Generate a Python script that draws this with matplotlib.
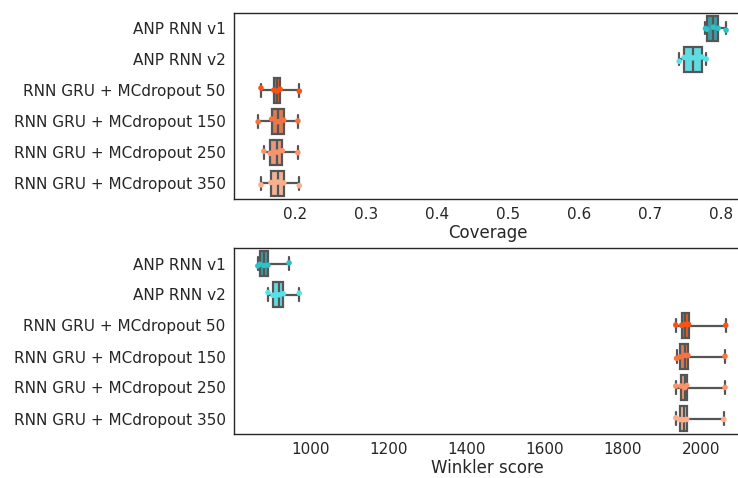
import numpy as np
import pandas as pd
import matplotlib
matplotlib.use("Agg")
import matplotlib.pyplot as plt
import seaborn as sns

models = ["ANP RNN v1", "ANP RNN v2", "RNN GRU + MCdropout 50",
          "RNN GRU + MCdropout 150", "RNN GRU + MCdropout 250",
          "RNN GRU + MCdropout 350"]

# coverage per run (5 runs per model)
cov_v1 = [0.778, 0.780, 0.789, 0.796, 0.807]
cov_v2 = [0.741, 0.748, 0.760, 0.773, 0.779]
cov_50 = [0.152, 0.170, 0.175, 0.179, 0.206]
cov_150 = [0.148, 0.167, 0.176, 0.184, 0.204]
cov_250 = [0.156, 0.165, 0.175, 0.182, 0.204]
cov_350 = [0.152, 0.166, 0.176, 0.184, 0.206]

# winkler score per run
wink_v1 = [866, 871, 882, 892, 946]
wink_v2 = [892, 905, 920, 931, 972]
wink_50 = [1936, 1951, 1959, 1969, 2064]
wink_150 = [1938, 1946, 1959, 1967, 2062]
wink_250 = [1936, 1949, 1959, 1964, 2062]
wink_350 = [1936, 1946, 1956, 1964, 2059]

box_colors = ["#3b9ca3", "#62dbe0", "#f0591c", "#e07a52", "#e8987b", "#efb496"]
pt_colors = ["#2fc0c9", "#55e3ea", "#ff5210", "#f8733d", "#ff9266", "#ffae88"]

cov = [cov_v1, cov_v2, cov_50, cov_150, cov_250, cov_350]
wink = [wink_v1, wink_v2, wink_50, wink_150, wink_250, wink_350]

rows = []
for m, c, w in zip(models, cov, wink):
    for a, b in zip(c, w):
        rows.append((m, a, b))
df = pd.DataFrame(rows, columns=["model", "Coverage", "Winkler score"])

sns.set_style("white")
plt.rcParams['font.family'] = ['DejaVu Sans']

fig = plt.figure(figsize=(7.38, 4.78), dpi=100)
ax1 = fig.add_axes([234/738, 1-199/478, (741-234)/738, (199-12.7)/478])
ax2 = fig.add_axes([234/738, 1-434/478, (741-234)/738, (434-248)/478])

np.random.seed(3)
for ax, col, lim in [(ax1, "Coverage", (0.114, 0.828)),
                     (ax2, "Winkler score", (805, 2103))]:
    sns.boxplot(data=df, x=col, y="model", hue="model", order=models,
                palette=box_colors, saturation=1, width=0.8, whis=(0, 100),
                linewidth=1.6, linecolor="#555555", fliersize=0,
                legend=False, ax=ax)
    sns.stripplot(data=df, x=col, y="model", hue="model", order=models,
                  palette=pt_colors, size=4, jitter=0.08,
                  legend=False, ax=ax)
    ax.set_xlim(lim)
    ax.set_ylabel("")
    ax.set_xlabel(col, fontsize=12, color="#262626", labelpad=1)
    ax.tick_params(length=0, pad=6, labelsize=11, labelcolor="#262626")
    for s in ax.spines.values():
        s.set_color("#262626")
        s.set_linewidth(1.0)

ax2.set_xticks([1000, 1200, 1400, 1600, 1800, 2000])

fig.savefig("out.png", dpi=100)
